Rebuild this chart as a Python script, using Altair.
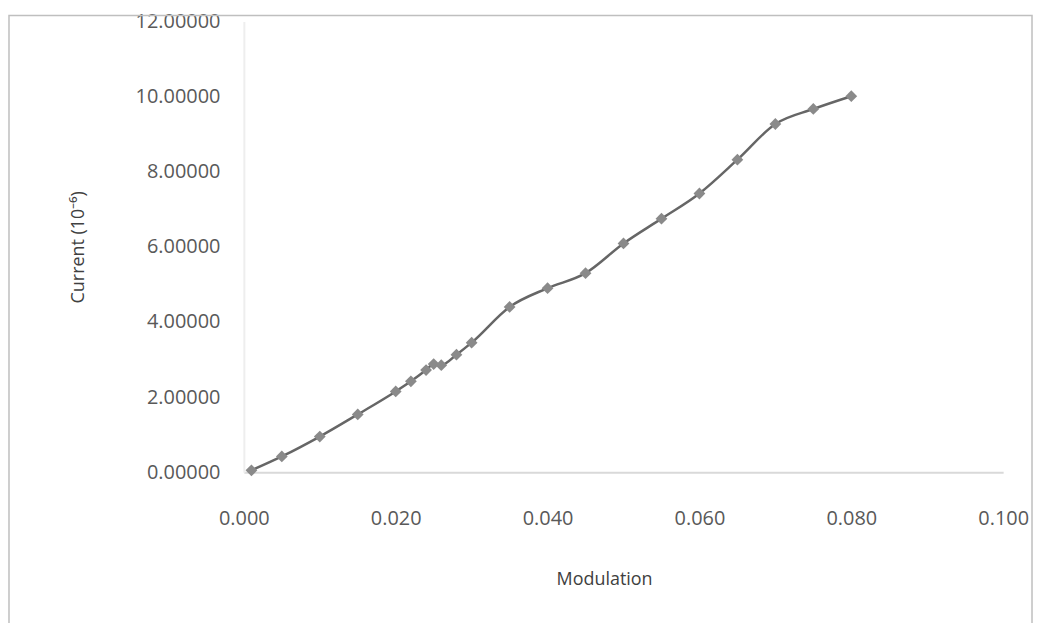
import altair as alt
import pandas as pd

modulation = [0.001, 0.005, 0.010, 0.015, 0.020, 0.022, 0.024, 0.025, 0.026, 0.028,
              0.030, 0.035, 0.040, 0.045, 0.050, 0.055, 0.060, 0.065, 0.070, 0.075, 0.080]
current = [0.05, 0.42, 0.95, 1.54, 2.15, 2.42, 2.72, 2.88, 2.85, 3.13,
           3.45, 4.40, 4.90, 5.30, 6.09, 6.75, 7.42, 8.32, 9.27, 9.67, 10.01]
x_ticks = [0, 0.02, 0.04, 0.06, 0.08, 0.1]
y_ticks = [0, 2, 4, 6, 8, 10, 12]

df = pd.DataFrame({"Modulation": modulation, "Current": current})

FONT = "Open Sans"

x = alt.X("Modulation:Q",
          scale=alt.Scale(domain=[0, 0.1], nice=False, zero=True),
          axis=alt.Axis(title="Modulation", format=".3f", values=x_ticks, labelFlush=False,
                        grid=False, ticks=False, domainColor="#d9d9d9", domainWidth=2,
                        labelPadding=37, titlePadding=42, labelFontSize=20, titleFontSize=18,
                        titleX=362,
                        labelColor="#595959", titleColor="#404040", labelFont=FONT, titleFont=FONT,
                        titleFontWeight="normal"))
y = alt.Y("Current:Q",
          scale=alt.Scale(domain=[0, 12], nice=False),
          axis=alt.Axis(title="Current (10⁻⁶)", format=".5f", values=y_ticks, labelFlush=False,
                        grid=False, ticks=False, domainColor="#eeeeee", domainWidth=2,
                        labelPadding=24, titlePadding=48, labelFontSize=20, titleFontSize=18,
                        labelColor="#595959", titleColor="#404040", labelFont=FONT, titleFont=FONT,
                        titleFontWeight="normal"))

border = alt.Chart(pd.DataFrame({"a": [0]})).mark_rect(
    fill=None, stroke="#bfbfbf", strokeWidth=1.5, clip=False
).encode(x=alt.value(-236), x2=alt.value(792), y=alt.value(-6), y2=alt.value(640))

line = alt.Chart(df).mark_line(color="#666666", strokeWidth=2.5, interpolate="monotone").encode(x=x, y=y)
pts = alt.Chart(df).mark_point(shape="diamond", filled=True, color="#8a8a8a", size=140, opacity=1).encode(x=x, y=y)

chart = alt.layer(border, line, pts).properties(
    width=763, height=453,
    background="white",
    autosize=alt.AutoSizeParams(type="none"),
    padding={"left": 237, "top": 12, "right": 30, "bottom": 150},
).configure_view(stroke=None)

chart.save("out.html", embed_options={"renderer": "svg", "actions": False})
